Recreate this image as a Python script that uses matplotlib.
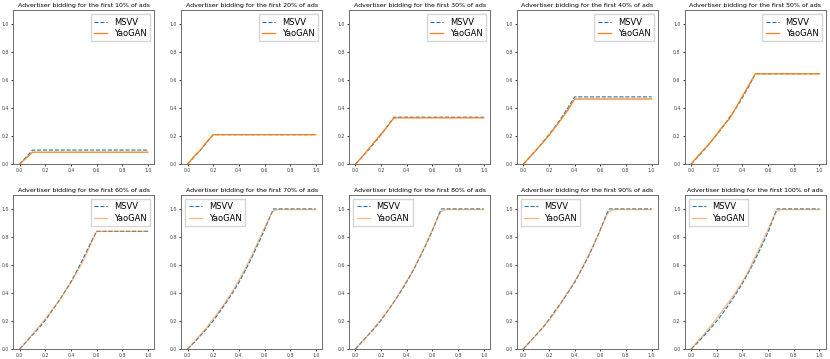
import numpy as np
import matplotlib
matplotlib.use("Agg")
import matplotlib.pyplot as plt

titles = ["Advertiser bidding for the first %d%% of ads" % p
          for p in [10, 20, 30, 40, 50, 60, 70, 80, 90, 100]]

# cumulative bidding curves, one list per panel
x1 = [0.0, 0.05, 0.1, 1.0]
msvv1 = [0.0, 0.05, 0.1, 0.1]
yao1 = [0.0, 0.043, 0.085, 0.085]

x2 = [0.0, 0.05, 0.1, 0.15, 0.2, 1.0]
msvv2 = [0.0, 0.05, 0.1, 0.155, 0.21, 0.21]
yao2 = [0.0, 0.055, 0.1, 0.16, 0.21, 0.21]

x3 = [0.0, 0.05, 0.1, 0.15, 0.2, 0.25, 0.3, 1.0]
msvv3 = [0.0, 0.05, 0.1, 0.155, 0.21, 0.27, 0.335, 0.335]
yao3 = [0.0, 0.05, 0.105, 0.16, 0.215, 0.27, 0.33, 0.33]

x4 = [0.0, 0.05, 0.1, 0.15, 0.2, 0.25, 0.3, 0.35, 0.4, 1.0]
msvv4 = [0.0, 0.05, 0.1, 0.155, 0.21, 0.27, 0.335, 0.405, 0.48, 0.48]
yao4 = [0.0, 0.05, 0.1, 0.15, 0.205, 0.265, 0.325, 0.39, 0.465, 0.465]

x5 = [0.0, 0.05, 0.1, 0.15, 0.2, 0.25, 0.3, 0.35, 0.4, 0.45, 0.5, 1.0]
msvv5 = [0.0, 0.05, 0.1, 0.155, 0.21, 0.27, 0.335, 0.4, 0.475, 0.555, 0.645, 0.645]
yao5 = [0.0, 0.055, 0.105, 0.155, 0.215, 0.275, 0.325, 0.405, 0.485, 0.565, 0.645, 0.645]

x6 = [0.0, 0.05, 0.1, 0.15, 0.2, 0.25, 0.3, 0.35, 0.4, 0.45, 0.5, 0.55, 0.6, 1.0]
msvv6 = [0.0, 0.05, 0.1, 0.15, 0.205, 0.27, 0.335, 0.405, 0.48, 0.565, 0.655, 0.75, 0.84, 0.84]
yao6 = [0.0, 0.05, 0.105, 0.16, 0.215, 0.275, 0.335, 0.405, 0.475, 0.555, 0.635, 0.74, 0.84, 0.84]

x7 = [0.0, 0.05, 0.1, 0.15, 0.2, 0.25, 0.3, 0.35, 0.4, 0.45, 0.5, 0.55, 0.6, 0.65, 0.67, 0.7, 1.0]
msvv7 = [0.0, 0.045, 0.095, 0.145, 0.2, 0.265, 0.33, 0.4, 0.475, 0.56, 0.65, 0.75, 0.85, 0.96, 1.0, 1.0, 1.0]
yao7 = [0.0, 0.05, 0.1, 0.155, 0.215, 0.275, 0.34, 0.41, 0.49, 0.575, 0.665, 0.765, 0.865, 0.96, 0.985, 0.995, 0.995]

x8 = [0.0, 0.05, 0.1, 0.15, 0.2, 0.25, 0.3, 0.35, 0.4, 0.45, 0.5, 0.55, 0.6, 0.65, 0.67, 0.7, 1.0]
msvv8 = [0.0, 0.05, 0.1, 0.15, 0.205, 0.27, 0.335, 0.405, 0.48, 0.56, 0.65, 0.745, 0.845, 0.96, 1.0, 1.0, 1.0]
yao8 = [0.0, 0.05, 0.1, 0.155, 0.21, 0.27, 0.335, 0.41, 0.485, 0.565, 0.655, 0.75, 0.85, 0.955, 0.98, 0.995, 0.995]

x9 = [0.0, 0.05, 0.1, 0.15, 0.2, 0.25, 0.3, 0.35, 0.4, 0.45, 0.5, 0.55, 0.6, 0.65, 0.67, 0.7, 1.0]
msvv9 = [0.0, 0.05, 0.1, 0.15, 0.21, 0.275, 0.335, 0.405, 0.475, 0.56, 0.645, 0.745, 0.85, 0.965, 1.0, 1.0, 1.0]
yao9 = [0.0, 0.05, 0.1, 0.15, 0.205, 0.265, 0.34, 0.41, 0.48, 0.565, 0.655, 0.745, 0.85, 0.955, 0.98, 0.995, 0.995]

x10 = [0.0, 0.05, 0.1, 0.15, 0.2, 0.25, 0.3, 0.35, 0.4, 0.45, 0.5, 0.55, 0.6, 0.65, 0.67, 0.7, 1.0]
msvv10 = [0.0, 0.045, 0.095, 0.145, 0.2, 0.26, 0.325, 0.395, 0.47, 0.55, 0.64, 0.735, 0.835, 0.955, 1.0, 1.0, 1.0]
yao10 = [0.0, 0.055, 0.105, 0.16, 0.22, 0.28, 0.345, 0.41, 0.48, 0.56, 0.66, 0.755, 0.855, 0.96, 0.985, 0.995, 0.995]

xs = [x1, x2, x3, x4, x5, x6, x7, x8, x9, x10]
msvv = [msvv1, msvv2, msvv3, msvv4, msvv5, msvv6, msvv7, msvv8, msvv9, msvv10]
yao = [yao1, yao2, yao3, yao4, yao5, yao6, yao7, yao8, yao9, yao10]
legend_loc = ["upper right"] * 6 + ["upper left"] * 4

fig, axes = plt.subplots(2, 5, figsize=(8.3, 3.59), dpi=100)
fig.subplots_adjust(left=0.016, right=0.995, bottom=0.028, top=0.972,
                    wspace=0.19, hspace=0.2)

for i, ax in enumerate(axes.flat):
    ax.plot(xs[i], msvv[i], "--", color="tab:blue", lw=0.8, label="MSVV")
    yao_alpha = 1.0 if i < 5 else 0.55
    ax.plot(xs[i], yao[i], "-", color="tab:orange", lw=0.9, alpha=yao_alpha, label="YaoGAN")
    ax.set_ylim(0, 1.1)
    ax.set_xticks([0, 0.2, 0.4, 0.6, 0.8, 1.0])
    ax.set_yticks([0, 0.2, 0.4, 0.6, 0.8, 1.0])
    ax.tick_params(labelsize=3.3, length=1.5, width=0.5, pad=1.5, labelcolor="#444444")
    for s in ax.spines.values():
        s.set_linewidth(0.6)
        s.set_color("#555555")
    ax.set_title(titles[i], fontsize=4.5, pad=2)
    ax.legend(loc=legend_loc[i], fontsize=6, handlelength=1.6, borderpad=0.4,
              labelspacing=0.3, handletextpad=0.8, fancybox=False, framealpha=0.8)

fig.savefig("out.png", dpi=100)
